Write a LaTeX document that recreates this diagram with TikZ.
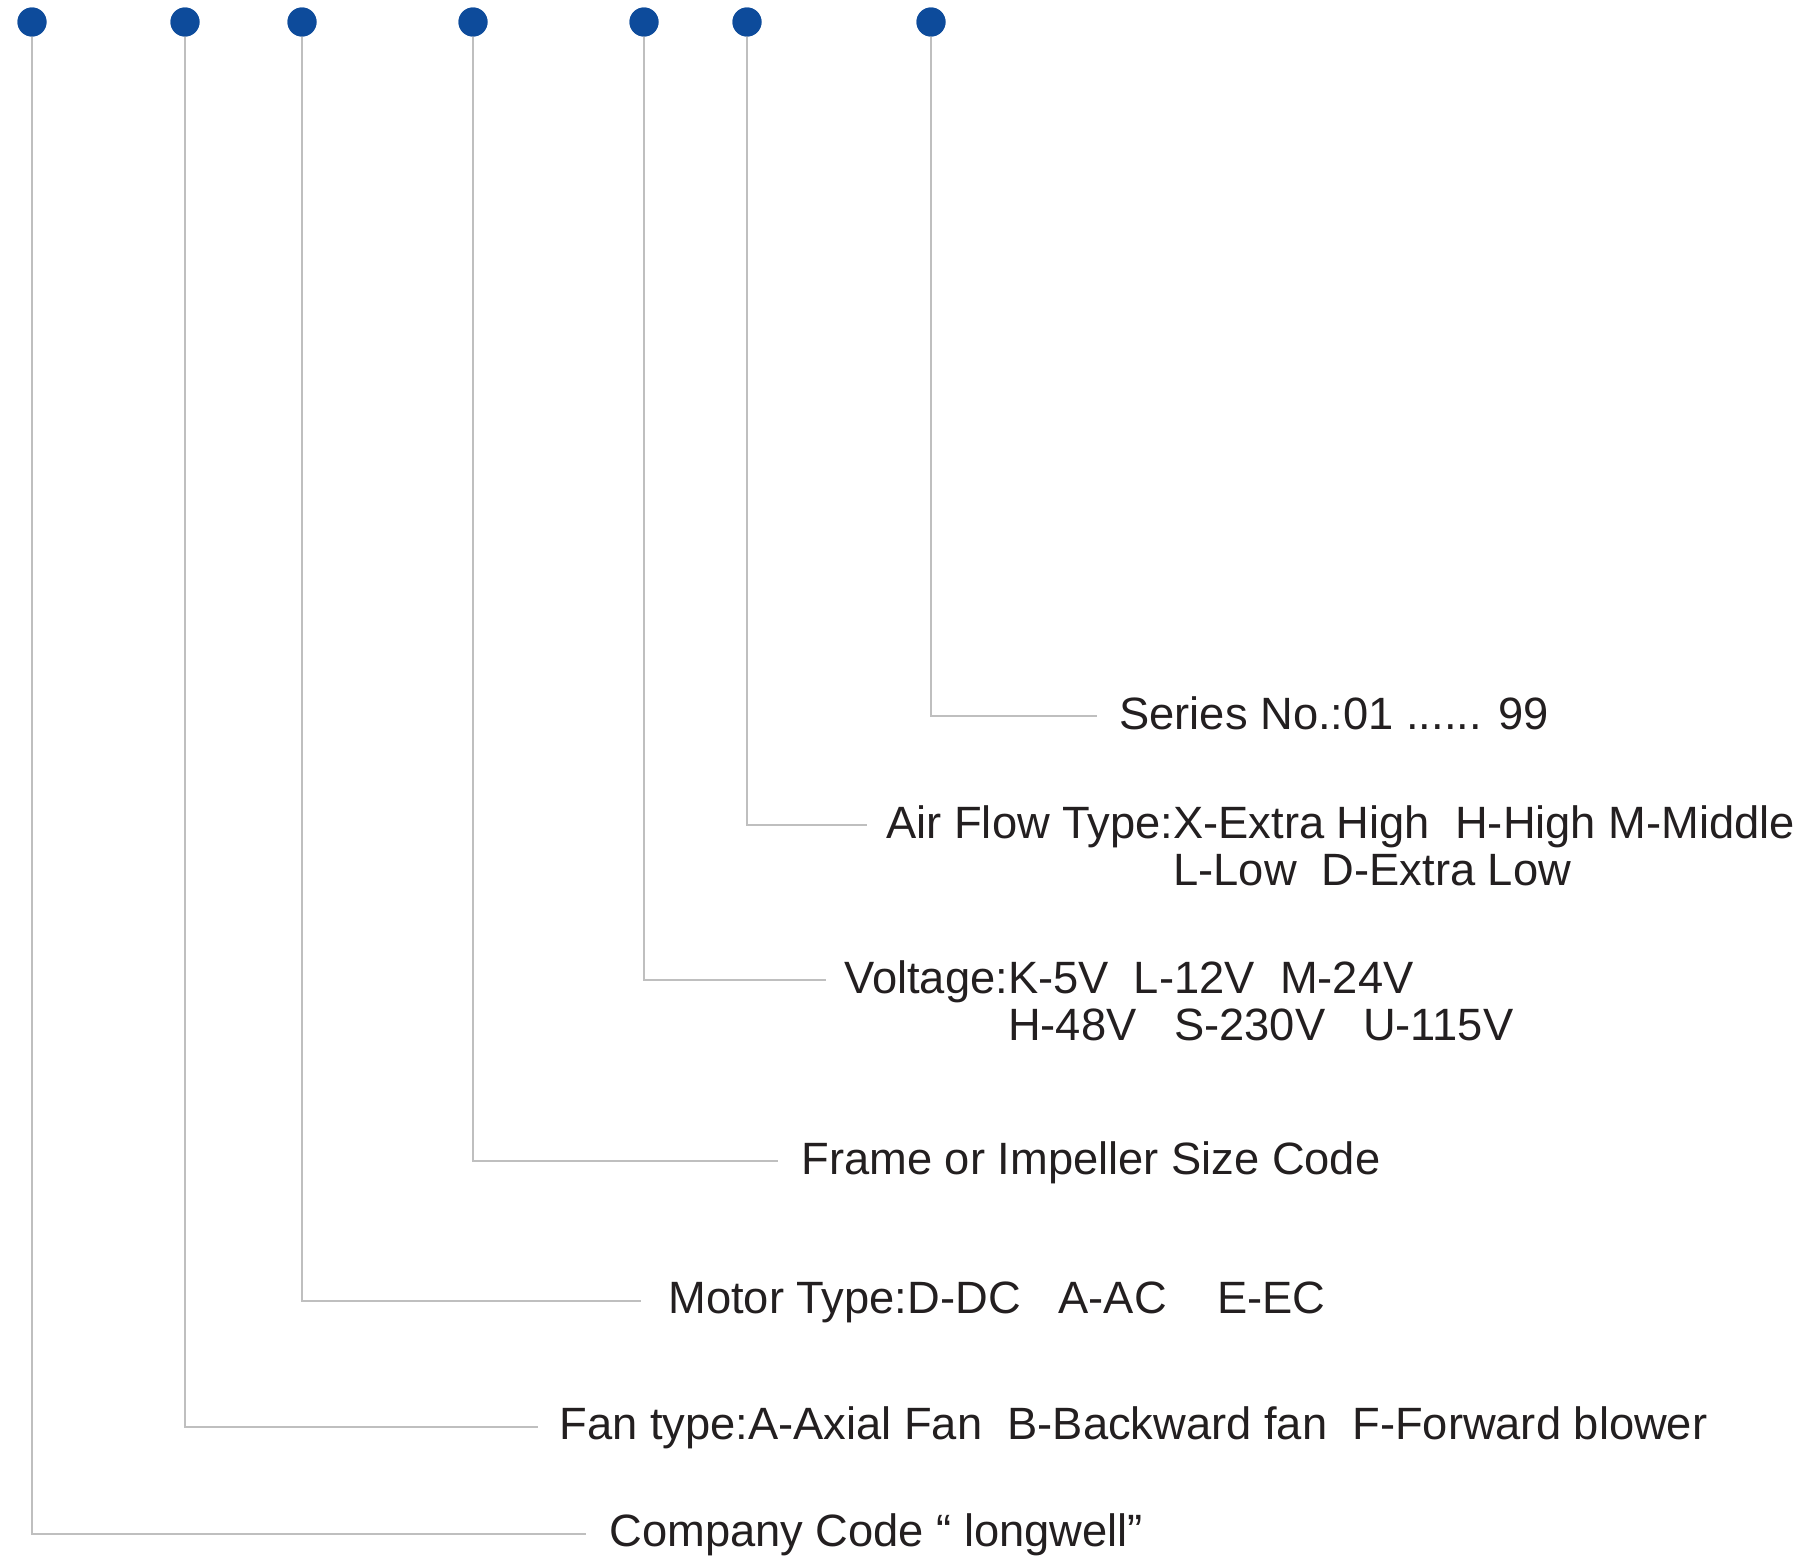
\documentclass[tikz,border=0pt]{standalone}
\usepackage{fontspec}
\setmainfont{Liberation Sans}
\definecolor{dotblue}{HTML}{0D4B9B}
\definecolor{leadgray}{HTML}{BFBFBF}
\definecolor{txt}{HTML}{231F20}
\begin{document}
\begin{tikzpicture}[x=0.5pt,y=-0.5pt,
  dot/.style={circle,fill=dotblue,draw=none,minimum size=14.5pt,inner sep=0pt},
  lead/.style={draw=leadgray,line width=1.2pt},
  lbl/.style={anchor=base west,inner sep=0pt,text=txt,font=\fontsize{22.65}{23.5}\selectfont}]
\useasboundingbox (0,0) rectangle (1805,1558);
% dots
\node[dot] (d1) at (32,22) {};
\node[dot] (d2) at (185,22) {};
\node[dot] (d3) at (302,22) {};
\node[dot] (d4) at (473,22) {};
\node[dot] (d5) at (644,22) {};
\node[dot] (d6) at (747,22) {};
\node[dot] (d7) at (931,22) {};
% lead ends
\coordinate (e1) at (586,1534);
\coordinate (e2) at (538,1427);
\coordinate (e3) at (641,1301);
\coordinate (e4) at (778,1161);
\coordinate (e5) at (826,980);
\coordinate (e6) at (867,825);
\coordinate (e7) at (1097,716);
% labels
\node[lbl] (l1) at (609,1546) {Company Code “ longwell”};
\node[lbl] (l2) at (559,1439) {Fan type:A-Axial Fan\ \ B-Backward fan\ \ F-Forward blower};
\node[lbl] (l3) at (668,1313) {Motor Type:D-DC\ \ \ A-AC\ \ \ \ E-EC};
\node[lbl] (l4) at (801,1174) {Frame or Impeller Size Code};
\node[lbl] (l5) at (844,993) {Voltage:\begin{tabular}[t]{@{}l@{}}K-5V\ \ L-12V\ \ M-24V\\H-48V\ \ \ S-230V\ \ \ U-115V\end{tabular}};
\node[lbl] (l6) at (886,838) {Air Flow Type:\begin{tabular}[t]{@{}l@{}}X-Extra High\ \ H-High M-Middle\\L-Low\ \ D-Extra Low\end{tabular}};
\node[lbl] (l7) at (1119,729) {Series No.:01 ...... 99};
% leads
\draw[lead] (d1.center) |- (e1);
\draw[lead] (d2.center) |- (e2);
\draw[lead] (d3.center) |- (e3);
\draw[lead] (d4.center) |- (e4);
\draw[lead] (d5.center) |- (e5);
\draw[lead] (d6.center) |- (e6);
\draw[lead] (d7.center) |- (e7);
\foreach \i in {1,...,7} \node[dot] at (d\i) {};
\end{tikzpicture}
\end{document}
